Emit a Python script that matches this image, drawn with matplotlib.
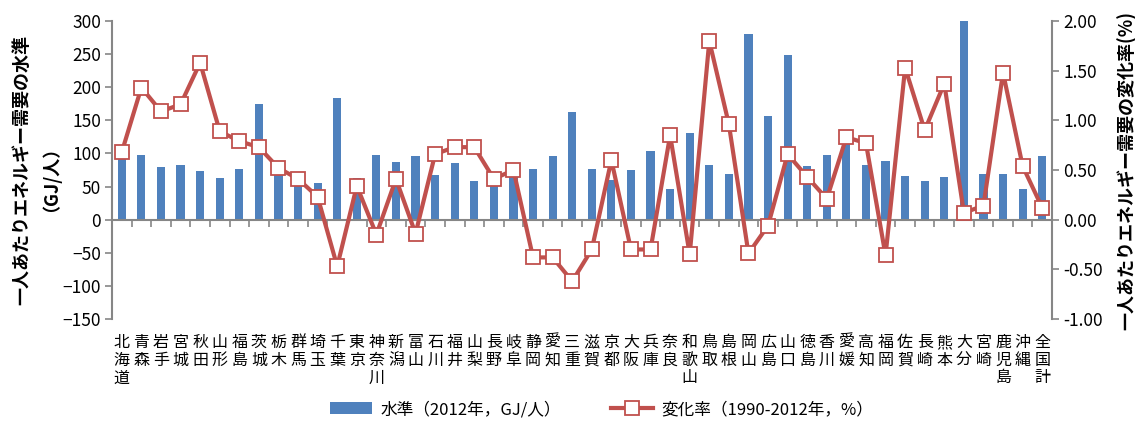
import matplotlib
matplotlib.use("Agg")
import matplotlib.pyplot as plt
from matplotlib.lines import Line2D
from matplotlib.patches import Patch
from matplotlib.ticker import FixedLocator, FormatStrFormatter

plt.rcParams['font.family'] = ['Noto Sans CJK JP', 'DejaVu Sans']

categories = ["北海道", "青森", "岩手", "宮城", "秋田", "山形", "福島", "茨城", "栃木", "群馬",
              "埼玉", "千葉", "東京", "神奈川", "新潟", "富山", "石川", "福井", "山梨", "長野",
              "岐阜", "静岡", "愛知", "三重", "滋賀", "京都", "大阪", "兵庫", "奈良", "和歌山",
              "鳥取", "島根", "岡山", "広島", "山口", "徳島", "香川", "愛媛", "高知", "福岡",
              "佐賀", "長崎", "熊本", "大分", "宮崎", "鹿児島", "沖縄", "全国計"]

level_2012 = [93, 98, 80, 83, 73, 63, 77, 175, 72, 59,
              55, 183, 63, 97, 87, 96, 68, 86, 58, 57,
              68, 77, 96, 163, 77, 60, 75, 103, 46, 131,
              83, 69, 280, 156, 248, 81, 97, 117, 83, 88,
              66, 58, 64, 300, 69, 69, 46, 96]

change_rate = [0.68, 1.33, 1.09, 1.16, 1.58, 0.89, 0.79, 0.73, 0.52, 0.41,
               0.23, -0.47, 0.34, -0.15, 0.41, -0.14, 0.66, 0.73, 0.73, 0.41,
               0.50, -0.38, -0.38, -0.62, -0.30, 0.60, -0.30, -0.30, 0.85, -0.35,
               1.80, 0.96, -0.34, -0.06, 0.66, 0.43, 0.21, 0.83, 0.77, -0.36,
               1.53, 0.90, 1.37, 0.07, 0.14, 1.48, 0.54, 0.12]

left_ticks = [-150, -100, -50, 0, 50, 100, 150, 200, 250, 300]
right_ticks = [-1.0, -0.5, 0.0, 0.5, 1.0, 1.5, 2.0]

bar_color = "#4F81BD"
line_color = "#C0504D"
axis_gray = "#868686"

fig = plt.figure(figsize=(11.35, 4.21), dpi=100)
ax = fig.add_axes([112/1135, 1 - 319/421, 940/1135, 298/421])
x = list(range(len(categories)))

ax.bar(x, level_2012, width=0.42, color=bar_color, zorder=2)
ax.set_xlim(-0.5, len(categories) - 0.5)
ax.set_ylim(-150, 300)
ax.set_yticks(left_ticks)
ax.tick_params(axis='y', labelsize=12.5, length=5, color=axis_gray, width=1.2, pad=3)
for s in ['top', 'right']:
    ax.spines[s].set_visible(False)
ax.spines['left'].set_color(axis_gray)
ax.spines['left'].set_linewidth(1.5)
ax.spines['bottom'].set_position(('data', 0))
ax.spines['bottom'].set_color(axis_gray)
ax.spines['bottom'].set_linewidth(1.5)
ax.xaxis.set_major_locator(FixedLocator([i + 0.5 for i in range(-1, len(categories))]))
ax.tick_params(axis='x', labelbottom=False, length=5, color=axis_gray, width=1.2)

for i, c in enumerate(categories):
    ax.text(i, -0.05, "\n".join(c), transform=ax.get_xaxis_transform(),
            ha='center', va='top', fontsize=11.5, linespacing=1.06)

ax.set_ylabel("一人あたりエネルギー需要の水準\n（GJ/人）", fontsize=13, fontweight='bold',
              linespacing=1.0, labelpad=8)

ax2 = ax.twinx()
ax2.plot(x, change_rate, color=line_color, linewidth=3, marker='s', markersize=9.5,
         markerfacecolor='white', markeredgecolor=line_color, markeredgewidth=1.3, zorder=3)
ax2.set_ylim(-1, 2)
ax2.set_yticks(right_ticks)
ax2.yaxis.set_major_formatter(FormatStrFormatter('%.2f'))
ax2.tick_params(axis='y', labelsize=12.5, length=5, color=axis_gray, width=1.2, pad=3)
for s in ['top', 'left', 'bottom']:
    ax2.spines[s].set_visible(False)
ax2.spines['right'].set_color(axis_gray)
ax2.spines['right'].set_linewidth(1.5)
ax2.set_ylabel("一人あたりエネルギー需要の変化率(%)", fontsize=13, fontweight='bold',
               labelpad=10)

handles = [Patch(facecolor=bar_color, edgecolor='none'),
           Line2D([0], [0], color=line_color, linewidth=3, marker='s', markersize=9.5,
                  markerfacecolor='white', markeredgecolor=line_color, markeredgewidth=1.3)]
labels = ["水準（2012年，GJ/人）", "変化率（1990-2012年，%）"]
fig.legend(handles, labels, loc='center', bbox_to_anchor=(0.53, 0.027), ncol=2,
           frameon=False, fontsize=12, handlelength=2.5, columnspacing=3, handletextpad=0.5)

fig.savefig("out.png", dpi=100)
